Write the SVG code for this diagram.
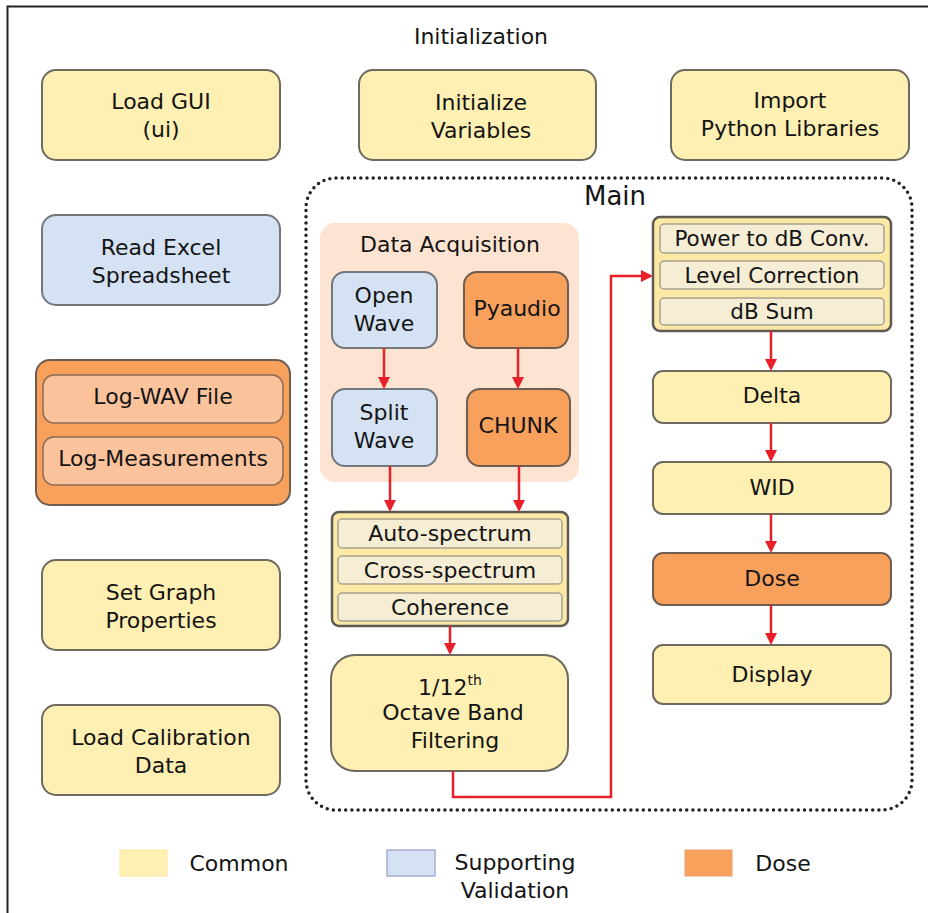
<svg xmlns="http://www.w3.org/2000/svg" width="928" height="913" viewBox="0 0 928 913">
  <style>
    text { font-family: "DejaVu Sans", Verdana, sans-serif; fill: #141414; text-anchor: middle; }
    .t22 { font-size: 22px; }
    .t20 { font-size: 21.5px; }
    .common { fill: #feefb2; stroke: #6e6a60; stroke-width: 2; }
    .support { fill: #d5e2f3; stroke: #73777e; stroke-width: 2; }
    .dose { fill: #f7a15d; stroke: #6e5d50; stroke-width: 2; }
    .group { fill: #fde9a6; stroke: #5c5a52; stroke-width: 2.5; }
    .row { fill: #f5edd4; stroke: #a8a190; stroke-width: 1.5; }
    .logrow { fill: #fbc39c; stroke: #8c6c55; stroke-width: 1.5; }
    .link { fill: none; stroke: #e8202a; stroke-width: 2.5; }
  </style>
  <defs>
    <marker id="arrow" viewBox="0 0 10 10" refX="7.5" refY="5" markerWidth="12" markerHeight="12" markerUnits="userSpaceOnUse" orient="auto">
      <path d="M0,0 L10,5 L0,10 z" fill="#e8202a"/>
    </marker>
  </defs>

  <!-- page frame -->
  <path d="M7.5 913 V6.5 H928" fill="none" stroke="#222" stroke-width="2"/>

  <text class="t22" x="481" y="44">Initialization</text>

  <!-- initialization blocks -->
  <g id="load-gui">
    <rect class="common" x="42" y="70" width="238" height="90" rx="14"/>
    <text class="t22" x="161" y="109">Load GUI</text>
    <text class="t22" x="161" y="137">(ui)</text>
  </g>
  <g id="init-variables">
    <rect class="common" x="359" y="70" width="237" height="90" rx="14"/>
    <text class="t22" x="481" y="110">Initialize</text>
    <text class="t22" x="481" y="138">Variables</text>
  </g>
  <g id="import-libraries">
    <rect class="common" x="671" y="70" width="238" height="90" rx="14"/>
    <text class="t22" x="790" y="108">Import</text>
    <text class="t22" x="790" y="136">Python Libraries</text>
  </g>
  <g id="read-excel">
    <rect class="support" x="42" y="215" width="238" height="90" rx="14"/>
    <text class="t22" x="161" y="255">Read Excel</text>
    <text class="t22" x="161" y="283">Spreadsheet</text>
  </g>
  <g id="logging">
    <rect class="dose" x="36" y="360" width="254" height="145" rx="14" stroke-width="2.5" stroke="#555"/>
    <rect class="logrow" x="43" y="375" width="240" height="48" rx="11"/>
    <text class="t22" x="163" y="404">Log-WAV File</text>
    <rect class="logrow" x="43" y="437" width="240" height="48" rx="11"/>
    <text class="t22" x="163" y="466">Log-Measurements</text>
  </g>
  <g id="graph-properties">
    <rect class="common" x="42" y="560" width="238" height="90" rx="14"/>
    <text class="t22" x="161" y="600">Set Graph</text>
    <text class="t22" x="161" y="628">Properties</text>
  </g>
  <g id="calibration">
    <rect class="common" x="42" y="705" width="238" height="90" rx="14"/>
    <text class="t22" x="161" y="745">Load Calibration</text>
    <text class="t22" x="161" y="773">Data</text>
  </g>

  <!-- main loop -->
  <g id="main">
    <rect x="306" y="178" width="606" height="632" rx="30" fill="none" stroke="#222" stroke-width="3.5" stroke-dasharray="0 6.2" stroke-linecap="round"/>
    <text x="615" y="205" style="font-size:26px">Main</text>
  </g>

  <g id="data-acquisition">
    <rect x="320" y="223" width="259" height="259" rx="15" fill="#fde3d1"/>
    <text class="t22" x="450" y="252">Data Acquisition</text>
  </g>
  <g id="open-wave">
    <rect class="support" x="332" y="272" width="105" height="76" rx="13"/>
    <text class="t22" x="384" y="303">Open</text>
    <text class="t22" x="384" y="331">Wave</text>
  </g>
  <g id="pyaudio">
    <rect class="dose" x="464" y="272" width="104" height="76" rx="13"/>
    <text class="t22" x="517" y="316">Pyaudio</text>
  </g>
  <g id="split-wave">
    <rect class="support" x="332" y="389" width="105" height="77" rx="13"/>
    <text class="t22" x="384" y="420">Split</text>
    <text class="t22" x="384" y="448">Wave</text>
  </g>
  <g id="chunk">
    <rect class="dose" x="467" y="389" width="103" height="77" rx="13"/>
    <text class="t22" x="518" y="433">CHUNK</text>
  </g>

  <g id="spectra">
    <rect class="group" x="332" y="512" width="236" height="114" rx="7"/>
    <rect class="row" x="338" y="519" width="224" height="29" rx="4"/>
    <text class="t22" x="450" y="541">Auto-spectrum</text>
    <rect class="row" x="338" y="556" width="224" height="28" rx="4"/>
    <text class="t22" x="450" y="578">Cross-spectrum</text>
    <rect class="row" x="338" y="593" width="224" height="28" rx="4"/>
    <text class="t22" x="450" y="615">Coherence</text>
  </g>
  <g id="octave-filter">
    <rect class="common" x="331" y="655" width="237" height="116" rx="24"/>
    <text class="t22" x="450" y="695">1/12<tspan style="font-size:14px" dy="-10">th</tspan></text>
    <text class="t22" x="453" y="720">Octave Band</text>
    <text class="t22" x="455" y="748">Filtering</text>
  </g>

  <g id="level-processing">
    <rect class="group" x="653" y="217" width="238" height="114" rx="7"/>
    <rect class="row" x="660" y="224" width="224" height="29" rx="4"/>
    <text class="t20" x="772" y="246">Power to dB Conv.</text>
    <rect class="row" x="660" y="261" width="224" height="28" rx="4"/>
    <text class="t20" x="772" y="283">Level Correction</text>
    <rect class="row" x="660" y="298" width="224" height="27" rx="4"/>
    <text class="t20" x="772" y="319">dB Sum</text>
  </g>
  <g id="delta">
    <rect class="common" x="653" y="371" width="238" height="52" rx="10"/>
    <text class="t22" x="772" y="403">Delta</text>
  </g>
  <g id="wid">
    <rect class="common" x="653" y="462" width="238" height="52" rx="10"/>
    <text class="t22" x="772" y="495">WID</text>
  </g>
  <g id="dose">
    <rect class="dose" x="653" y="553" width="238" height="52" rx="10"/>
    <text class="t22" x="772" y="586">Dose</text>
  </g>
  <g id="display">
    <rect class="common" x="653" y="645" width="238" height="59" rx="10"/>
    <text class="t22" x="772" y="682">Display</text>
  </g>

  <!-- connectors -->
  <g id="connectors">
    <path class="link" d="M384 348 V386" marker-end="url(#arrow)"/>
    <path class="link" d="M518 348 V386" marker-end="url(#arrow)"/>
    <path class="link" d="M390 466 V509" marker-end="url(#arrow)"/>
    <path class="link" d="M519 466 V509" marker-end="url(#arrow)"/>
    <path class="link" d="M450 626 V652" marker-end="url(#arrow)"/>
    <path class="link" d="M453 771 V797 H611 V276 H650" marker-end="url(#arrow)"/>
    <path class="link" d="M771 331 V368" marker-end="url(#arrow)"/>
    <path class="link" d="M771 423 V459" marker-end="url(#arrow)"/>
    <path class="link" d="M771 514 V550" marker-end="url(#arrow)"/>
    <path class="link" d="M771 605 V642" marker-end="url(#arrow)"/>
  </g>

  <!-- legend -->
  <g id="legend">
    <rect x="120" y="850" width="47" height="26" fill="#fff0b3" stroke="#fbe59a" stroke-width="1"/>
    <text class="t22" x="239" y="871">Common</text>
    <rect x="387" y="850" width="48" height="26" fill="#d5e2f3" stroke="#9a9ccc" stroke-width="1.2"/>
    <text class="t22" x="515" y="870">Supporting</text>
    <text class="t22" x="515" y="898">Validation</text>
    <rect x="685" y="850" width="47" height="26" fill="#f7a15d" stroke="#f0a070" stroke-width="1"/>
    <text class="t22" x="783" y="871">Dose</text>
  </g>
</svg>
